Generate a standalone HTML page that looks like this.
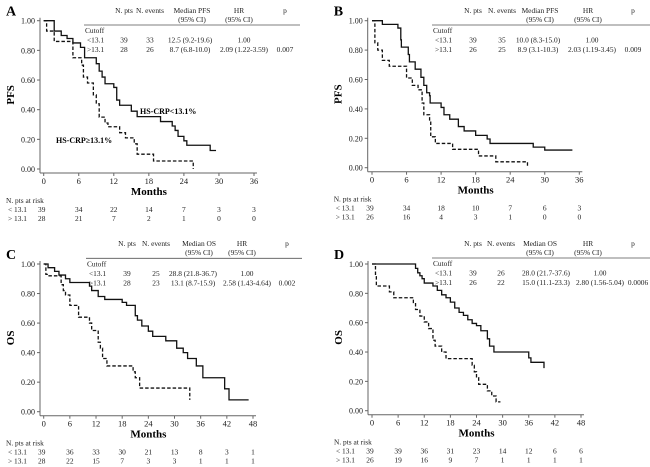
<!DOCTYPE html>
<html><head><meta charset="utf-8"><style>
body{margin:0;background:#fff}
svg{display:block;font-family:"Liberation Serif",serif}
</style></head><body>
<svg id="fig" width="650" height="467" viewBox="0 0 650 467"></svg>
<script>
// Panel A: PFS, <13.1 solid and >13.1 dashed
const aLowT=[1.8,3,4,5,6.3,7,9,9.5,10,10.5,12,12.5,13,15,16,20,22,22.5,23,24,24.5,28.5];
const aLowS=[0.93,0.90,0.88,0.85,0.82,0.75,0.71,0.66,0.62,0.575,0.55,0.465,0.43,0.39,0.353,0.32,0.29,0.26,0.22,0.19,0.16,0.125];
const aLowEnd=29.5;
const aHighT=[0.5,1.8,5,6.5,6.8,7.5,8.5,9,9.5,10.5,11,13,14,15.5,16,18.8,25.6];
const aHighS=[0.93,0.86,0.75,0.70,0.62,0.58,0.50,0.44,0.35,0.31,0.285,0.245,0.21,0.17,0.10,0.054,0.0];
const aHighEnd=25.6;
// Panel B
const bLowT=[1.8,4.5,5,5.1,6.3,6.5,7.5,8.5,9,9.5,10,10.1,12,12.5,13.5,15,16,18,20,20.5,28,30,34.5];
const bLowS=[0.975,0.95,0.87,0.82,0.77,0.72,0.67,0.615,0.56,0.51,0.49,0.44,0.41,0.36,0.33,0.28,0.25,0.22,0.195,0.165,0.14,0.12,0.12];
const bLowEnd=34.8;
const bHighT=[0.5,1,1.8,3,6,7,8,8.7,9,10,10.2,11,14,18.5,21.5,27];
const bHighS=[0.85,0.80,0.73,0.69,0.61,0.56,0.53,0.44,0.36,0.32,0.21,0.165,0.125,0.08,0.04,0.0];
const bHighEnd=27;
// Panel C: OS
const cLowT=[1,2.5,3.5,5,6,10.5,11,12.5,14,18,19,21,21.5,22.5,24,25,28,30.5,32,33,35,36.5,41.5,42.5,47];
const cLowS=[0.975,0.95,0.925,0.90,0.875,0.85,0.82,0.78,0.76,0.74,0.72,0.65,0.62,0.58,0.545,0.51,0.48,0.43,0.40,0.36,0.31,0.23,0.155,0.08,0.08];
const cLowEnd=47;
const cHighT=[0.5,0.8,4,4.5,5,6,8,8.5,10.5,11,12.5,13,13.5,14.5,20.5,21,22,23.5,33.5];
const cHighS=[0.93,0.92,0.86,0.82,0.79,0.72,0.64,0.64,0.60,0.55,0.47,0.43,0.36,0.31,0.27,0.23,0.16,0.16,0.08];
const cHighEnd=33.5;
// Panel D
const dLowT=[10,10.5,11,11.5,12,14,15,16,17,18,19,20,21,22,23,24,25,26.5,27,28,29,36,36.5,37.5,39.5];
const dLowS=[0.97,0.94,0.92,0.90,0.87,0.85,0.82,0.79,0.77,0.74,0.70,0.67,0.65,0.62,0.595,0.58,0.545,0.49,0.44,0.40,0.40,0.36,0.33,0.33,0.29];
const dLowEnd=39.5;
const dHighT=[0.8,1,1.5,4,5,9.5,10,11,12,13,14,14.5,16,17,23,23.5,24,24.5,26.5,27.5,28.5,29.5];
const dHighS=[0.92,0.85,0.85,0.81,0.77,0.73,0.69,0.645,0.605,0.56,0.48,0.44,0.40,0.355,0.31,0.265,0.225,0.18,0.135,0.10,0.06,0.06];
const dHighEnd=29.5;

const yTicks=["0.00","0.20","0.40","0.60","0.80","1.00"];
const xTicksPFS=[0,6,12,18,24,30,36];
const xTicksOS=[0,6,12,18,24,30,36,42,48];
const riskA=[[39,34,22,14,7,3,3],[28,21,7,2,1,0,0]];
const riskB=[[39,34,18,10,7,6,3],[26,16,4,3,1,0,0]];
const riskC=[[39,36,33,30,21,13,8,3,1],[28,22,15,7,3,3,1,1,1]];
const riskD=[[39,39,36,31,23,14,12,6,6],[26,19,16,9,7,1,1,1,1]];
const tabA=[["39","33","12.5 (9.2-19.6)","1.00",""],["28","26","8.7 (6.8-10.0)","2.09 (1.22-3.59)","0.007"]];
const tabB=[["39","35","10.0 (8.3-15.0)","1.00",""],["26","25","8.9 (3.1-10.3)","2.03 (1.19-3.45)","0.009"]];
const tabC=[["39","25","28.8 (21.8-36.7)","1.00",""],["28","23","13.1 (8.7-15.9)","2.58 (1.43-4.64)","0.002"]];
const tabD=[["39","26","28.0 (21.7-37.6)","1.00",""],["26","22","15.0 (11.1-23.3)","2.80 (1.56-5.04)","0.0006"]];

const NS="http://www.w3.org/2000/svg";
const svg=document.getElementById('fig');
function mk(tag,attrs,parent,txt){const e=document.createElementNS(NS,tag);for(const k in attrs)e.setAttribute(k,attrs[k]);if(txt!==undefined)e.textContent=txt;(parent||svg).appendChild(e);return e;}

const panels=[
 {id:'a',letter:'A',yl:'PFS',med:'Median PFS',ax:40,x0:43.7,x1:254,xmax:36,yT:20.7,yB:169,ticks:xTicksPFS,risk:riskA,tab:tabA,tb:{line:25,l:84,r:300,c:[124,150,192,239,285],d:[124,150,190,244,285],top:0},
  series:[[aLowT,aLowS,aLowEnd,false],[aHighT,aHighS,aHighEnd,true]],labels:true},
 {id:'b',letter:'B',yl:'PFS',med:'Median PFS',ax:367.7,x0:372,x1:579.3,xmax:36,yT:20.7,yB:167.7,ticks:xTicksPFS,risk:riskB,tab:tabB,tb:{line:25,l:432,r:650,c:[473,502,540,588,633],d:[473,502,538,592,633],top:0},
  series:[[bLowT,bLowS,bLowEnd,false],[bHighT,bHighS,bHighEnd,true]]},
 {id:'c',letter:'C',yl:'OS',med:'Median OS',ax:40,x0:43.7,x1:253,xmax:48,yT:264,yB:411.7,ticks:xTicksOS,risk:riskC,tab:tabC,tb:{line:258.3,l:86,r:302,c:[127,156,199,242,287],d:[127,156,193,247,287],top:233},
  series:[[cLowT,cLowS,cLowEnd,false],[cHighT,cHighS,cHighEnd,true]]},
 {id:'d',letter:'D',yl:'OS',med:'Median OS',ax:368,x0:372,x1:581,xmax:48,yT:264,yB:410.7,ticks:xTicksOS,risk:riskD,tab:tabD,tb:{line:258,l:432,r:650,c:[473,501,540,588,633],d:[473,501,546,600,638],top:233},
  series:[[dLowT,dLowS,dLowEnd,false],[dHighT,dHighS,dHighEnd,true]]}
];

const FS=7.4;
panels.forEach(p=>{
 const g=mk('g',{});
 
 
 const X=t=>p.x0+(p.x1-p.x0)*t/p.xmax;
 const Y=s=>p.yB-(p.yB-p.yT)*s;
 const base=p.yB+4;
 const pl=mk('text',{x:p.ax-34,y:p.yT-5,'font-size':14,'font-weight':'bold'},g,p.letter);
 
 
 const ya=mk('line',{x1:p.ax,y1:p.yT-3,x2:p.ax,y2:base,stroke:'#666','stroke-width':1},g);
 
 
 const xa=mk('line',{x1:p.ax,y1:base,x2:p.x1+3,y2:base,stroke:'#666','stroke-width':1},g);
 
 
 yTicks.forEach(lab=>{const v=parseFloat(lab);const y=Y(v);
  mk('line',{x1:p.ax-3,y1:y,x2:p.ax,y2:y,stroke:'#666'},g);
  const t=mk('text',{x:p.ax-5,y:y+3,'font-size':8,'text-anchor':'end',fill:'#222'},g,lab);
  
  
 });
 p.ticks.forEach(v=>{const x=X(v);
  mk('line',{x1:x,y1:base,x2:x,y2:base+3,stroke:'#666'},g);
  const t=mk('text',{x:x,y:base+11,'font-size':8.5,'text-anchor':'middle',fill:'#222'},g,String(v));
  
  
 });
 const yt=mk('text',{x:0,y:0,'font-size':11,'font-weight':'bold','text-anchor':'middle',transform:`translate(${p.ax-26},${(p.yT+p.yB)/2}) rotate(-90)`},g,p.yl);
 
 
 const xt=mk('text',{x:(p.x0+p.x1)/2,y:base+22,'font-size':11,'font-weight':'bold','text-anchor':'middle'},g,'Months');
 
 
 p.series.forEach(([T,S,end,dash])=>{
  let d=`M${X(0)},${Y(1)}`;
  for(let i=0;i<T.length;i++){d+=` H${X(T[i])} V${Y(S[i])}`;}
  d+=` H${X(end)}`;
  const path=mk('path',{d:d,fill:'none',stroke:'#111','stroke-width':1.3,'stroke-dasharray':dash?'3.5,2':'none'},g);
  
  
 });
 const rt=base+30;
 const rh=mk('text',{x:p.ax-34,y:rt,'font-size':FS,fill:'#222'},g,'N. pts at risk');
 
 
 ['< 13.1','> 13.1'].forEach((lab,r)=>{
  const y=rt+9*(r+1);
  const l=mk('text',{x:p.ax-32,y:y,'font-size':FS,fill:'#222'},g,lab);
  
  
  p.risk[r].forEach((n,i)=>{
   const t=mk('text',{x:X(p.ticks[i])-(i==0?2:0),y:y,'font-size':FS,'text-anchor':'middle',fill:'#222'},g,String(n));
   
   
  });
 });
 const tb=p.tb, tt=tb.top;
 const hdr1=['N. pts','N. events',p.med,'HR','p'];
 const hdr2=['','','(95% CI)','(95% CI)',''];
 hdr1.forEach((h,i)=>{const t=mk('text',{x:tb.c[i],y:tt+13,'font-size':FS,'text-anchor':'middle',fill:'#222'},g,h);
  
  
  if(hdr2[i]){mk('text',{x:tb.c[i],y:tt+22,'font-size':FS,'text-anchor':'middle',fill:'#222'},g,hdr2[i]);}
 });
 const tl=mk('line',{x1:tb.l,y1:tb.line,x2:tb.r,y2:tb.line,stroke:'#555','stroke-width':0.8},g);
 
 
 mk('text',{x:tb.l+1,y:tb.line+8,'font-size':FS,fill:'#222'},g,'Cutoff');
 ['<13.1','>13.1'].forEach((lab,r)=>{
  const y=tb.line+17.5+9.5*r;
  const l=mk('text',{x:tb.l+3,y:y,'font-size':FS,fill:'#222'},g,lab);
  
  
  p.tab[r].forEach((v,i)=>{if(!v)return;
   const t=mk('text',{x:tb.d[i],y:y,'font-size':FS,'text-anchor':'middle',fill:'#222'},g,v);
   
   
  });
 });
 if(p.labels){
  const l1=mk('text',{x:140,y:114,'font-size':8,'font-weight':'bold'},g,'HS-CRP<13.1%');
  
  
  const l2=mk('text',{x:56,y:143,'font-size':8,'font-weight':'bold'},g,'HS-CRP\u226513.1%');
  
  
 }
});
</script>
</body></html>
